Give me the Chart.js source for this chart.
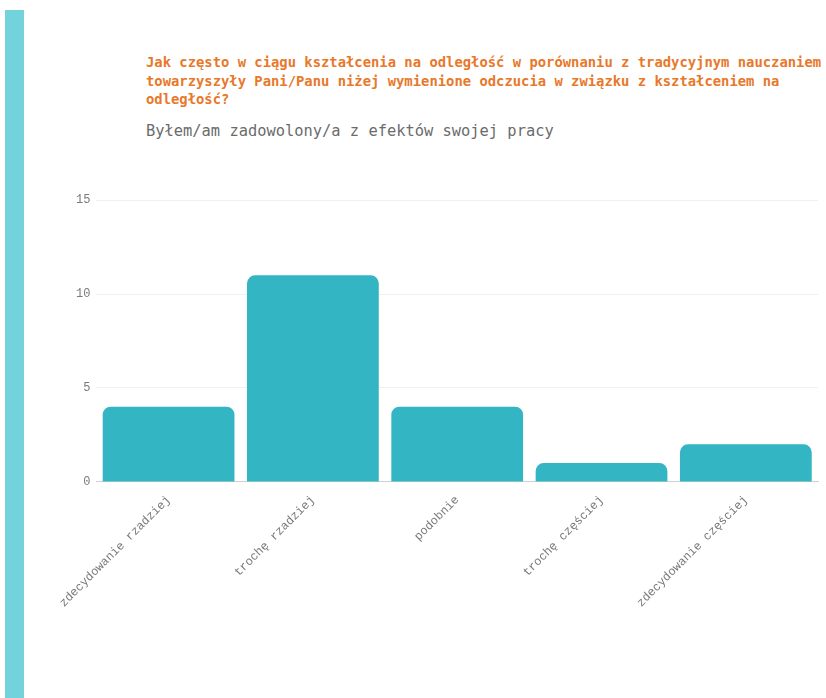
<!DOCTYPE html>
<html><head><meta charset="utf-8">
<script src="https://cdn.jsdelivr.net/npm/chart.js@4"></script>
<style>
html,body{margin:0;padding:0;background:#fff;width:826px;height:698px;overflow:hidden;position:relative}
#bar{position:absolute;left:5px;top:10px;width:19px;height:688px;background:#72d3dc}
#title{position:absolute;left:146px;top:53px;width:680px;font-family:"DejaVu Sans Mono",monospace;font-weight:bold;font-size:13.85px;line-height:18.5px;color:#e8782a;white-space:pre}
#sub{position:absolute;left:146px;top:122px;font-family:"DejaVu Sans Mono",monospace;font-size:15.4px;color:#6b6b6b}
#wrap{position:absolute;left:56px;top:187px;width:770px;height:426px}
</style></head><body>
<div id="bar"></div>
<div id="title">Jak często w ciągu kształcenia na odległość w porównaniu z tradycyjnym nauczaniem
towarzyszyły Pani/Panu niżej wymienione odczucia w związku z kształceniem na
odległość?</div>
<div id="sub">Byłem/am zadowolony/a z efektów swojej pracy</div>
<div id="wrap"><canvas id="c"></canvas></div>
<script>
const categories = ["zdecydowanie rzadziej","trochę rzadziej","podobnie","trochę częściej","zdecydowanie częściej"];
const values = [4, 11, 4, 1, 2];
const yTicks = [0, 5, 10, 15];

new Chart(document.getElementById('c'), {
  type: 'bar',
  data: { labels: categories, datasets: [{ data: values, backgroundColor: '#33b5c4', borderRadius: {topLeft:8, topRight:8, bottomLeft:0, bottomRight:0}, borderSkipped: 'bottom', barPercentage: 0.913, categoryPercentage: 1 }] },
  options: {
    responsive: true, maintainAspectRatio: false, animation: false,
    layout: { padding: { top: 0, right: 8, left: 0, bottom: 0 } },
    plugins: { legend: { display: false }, tooltip: { enabled: false } },
    scales: {
      x: {
        grid: { display: false },
        border: { color: '#d0d0d0' },
        ticks: { minRotation: 45, maxRotation: 45, color: '#7a7a7a', font: { family: 'Liberation Mono', size: 12 } }
      },
      y: {
        min: 0, max: 15,
        afterBuildTicks: (ax) => { ax.ticks = yTicks.map(v => ({ value: v })); },
        grid: { color: '#f0f0f0', drawTicks: false },
        border: { display: false },
        ticks: { padding: 6, color: '#7a7a7a', font: { family: 'Liberation Mono', size: 12 } }
      }
    }
  }
});
</script>
</body></html>
